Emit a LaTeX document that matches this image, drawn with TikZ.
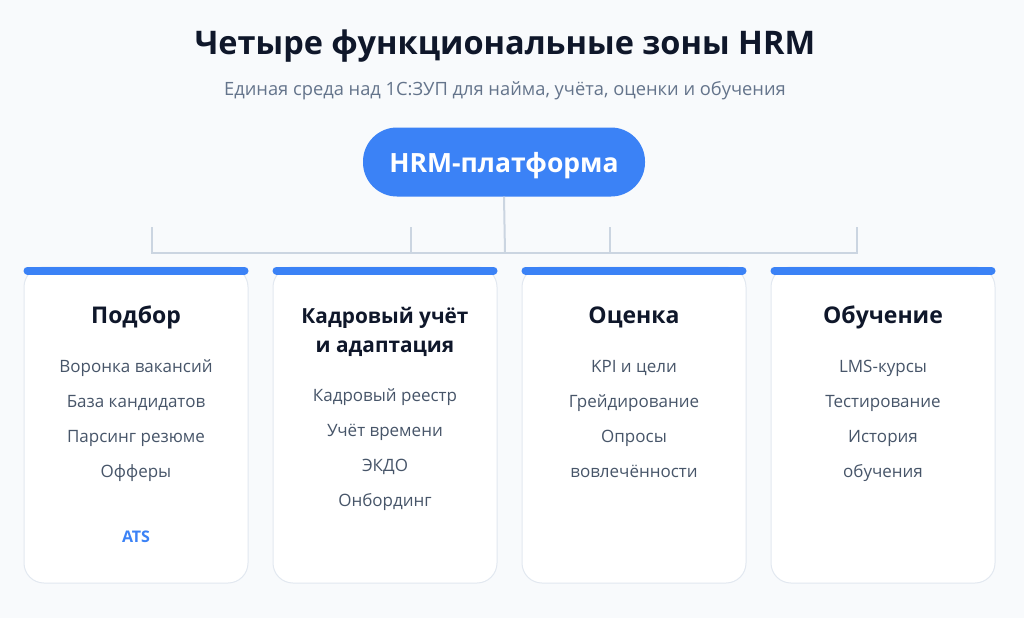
\documentclass[tikz,border=0pt]{standalone}
\usepackage{fontspec}
\setmainfont{Open Sans}
\definecolor{bg}{HTML}{F8FAFC}
\definecolor{ink}{HTML}{0F172A}
\definecolor{sub}{HTML}{64748B}
\definecolor{item}{HTML}{475569}
\definecolor{blue}{HTML}{3B82F6}
\definecolor{conn}{HTML}{CBD5E1}
\definecolor{cardline}{HTML}{E2E8F0}
\tikzset{
  titletext/.style={anchor=base, inner sep=0pt, text=ink, font=\fontsize{32.5}{36}\selectfont\bfseries},
  subtext/.style={anchor=base, inner sep=0pt, text=sub, font=\fontsize{18.3}{22}\selectfont},
  pill/.style={fill=blue, draw=none, rounded corners=34pt, minimum width=282pt, minimum height=69pt, inner sep=0pt},
  pilltext/.style={anchor=base, inner sep=0pt, text=white, font=\fontsize{26.5}{30}\selectfont\bfseries},
  connline/.style={draw=conn, line width=2pt},
  card/.style={fill=white, draw=cardline, line width=1pt, rounded corners=20pt, minimum width=224pt, minimum height=316pt, inner sep=0pt},
  bar/.style={draw=blue, line width=8pt, line cap=round},
  headtext/.style={anchor=base, inner sep=0pt, text=ink, font=\fontsize{23}{27}\selectfont\bfseries},
  smallhead/.style={anchor=base, inner sep=0pt, text=ink, font=\fontsize{20.8}{24}\selectfont\bfseries},
  itemtext/.style={anchor=base, inner sep=0pt, text=item, font=\fontsize{17}{20}\selectfont},
  atstext/.style={anchor=base, inner sep=0pt, text=blue, font=\fontsize{16}{19}\selectfont\bfseries},
}
\begin{document}
\begin{tikzpicture}[x=1pt,y=-1pt]
\useasboundingbox[fill=bg] (0,0) rectangle (1024,618);
\node[titletext] (title) at (505,55) {Четыре функциональные зоны HRM};
\node[subtext] (subtitle) at (505,95) {Единая среда над 1С:ЗУП для найма, учёта, оценки и обучения};
\node[pill] (hrm) at (504,162) {};
\node[pilltext] (hrmtext) at (504,172) {HRM-платформа};
% connectors
\coordinate (hub) at (505,253);
\coordinate (t1) at (152,227); \coordinate (b1) at (152,253);
\coordinate (t2) at (411,227); \coordinate (b2) at (411,253);
\coordinate (t3) at (610,227); \coordinate (b3) at (610,253);
\coordinate (t4) at (857,227); \coordinate (b4) at (857,253);
\draw[connline] (hrm.south) -- (hub);
\draw[connline] (t1) -- (b1) -- (b4) -- (t4);
\draw[connline] (t2) -- (b2);
\draw[connline] (t3) -- (b3);
% cards
\foreach \cx/\nm in {136/c1,385/c2,634/c3,883/c4}{
  \node[card] (\nm) at (\cx,425) {};
  \draw[bar] ([xshift=4pt,yshift=-4pt]\nm.north west) -- ([xshift=-4pt,yshift=-4pt]\nm.north east);
}
% card 1
\node[headtext] (h1) at (136,323) {Подбор};
\node[itemtext] (i11) at (136,372) {Воронка вакансий};
\node[itemtext] (i12) at (136,407) {База кандидатов};
\node[itemtext] (i13) at (136,442) {Парсинг резюме};
\node[itemtext] (i14) at (136,477) {Офферы};
\node[atstext] (ats) at (136,542) {ATS};
% card 2
\node[smallhead] (h2a) at (385,323) {Кадровый учёт};
\node[smallhead] (h2b) at (385,352) {и адаптация};
\node[itemtext] (i21) at (385,401) {Кадровый реестр};
\node[itemtext] (i22) at (385,436) {Учёт времени};
\node[itemtext] (i23) at (385,471) {ЭКДО};
\node[itemtext] (i24) at (385,506) {Онбординг};
% card 3
\node[headtext] (h3) at (634,323) {Оценка};
\node[itemtext] (i31) at (634,372) {KPI и цели};
\node[itemtext] (i32) at (634,407) {Грейдирование};
\node[itemtext] (i33) at (634,442) {Опросы};
\node[itemtext] (i34) at (634,477) {вовлечённости};
% card 4
\node[headtext] (h4) at (883,323) {Обучение};
\node[itemtext] (i41) at (883,372) {LMS-курсы};
\node[itemtext] (i42) at (883,407) {Тестирование};
\node[itemtext] (i43) at (883,442) {История};
\node[itemtext] (i44) at (883,477) {обучения};
\end{tikzpicture}
\end{document}
